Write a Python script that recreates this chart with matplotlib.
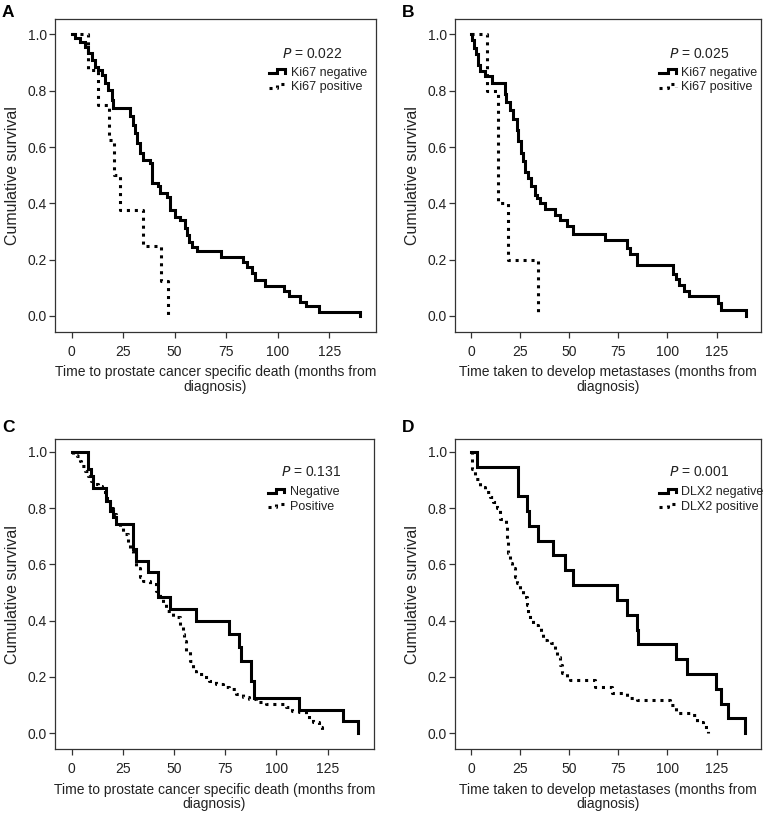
import matplotlib
matplotlib.use("Agg")
import matplotlib.pyplot as plt
from matplotlib.lines import Line2D
from matplotlib.legend_handler import HandlerLine2D

plt.rcParams['font.family'] = ['Liberation Sans', 'DejaVu Sans']

# ---------------- data (months, cumulative survival) ----------------
a_neg_t = [0, 1.6, 4.0, 6.5, 8.1, 9.7, 11.3, 12.9, 14.5, 16.2, 17.8, 19.4, 20.2, 28.3, 29.6, 30.7,
           31.8, 33.1, 34.8, 38.0, 38.8, 42.1, 42.9, 46.1, 47.7, 50.1, 52.5, 54.9, 55.8, 56.9, 58.2,
           60.6, 72.3, 83.0, 85.0, 87.4, 89.0, 94.0, 103.0, 105.5, 111.0, 114.0, 120.0, 140.0]
a_neg_s = [1.0, 0.987, 0.972, 0.957, 0.934, 0.91, 0.886, 0.874, 0.857, 0.827, 0.803, 0.768, 0.738,
           0.709, 0.679, 0.649, 0.614, 0.578, 0.555, 0.543, 0.472, 0.46, 0.436, 0.424, 0.377, 0.353,
           0.341, 0.312, 0.288, 0.264, 0.246, 0.231, 0.211, 0.193, 0.175, 0.152, 0.128, 0.105, 0.09,
           0.07, 0.05, 0.035, 0.015, 0.0]
a_pos_t = [0, 8.1, 12.9, 18.2, 20.6, 23.5, 34.8, 43.5, 46.7]
a_pos_s = [1.0, 0.875, 0.75, 0.625, 0.5, 0.375, 0.25, 0.125, 0.0]

b_neg_t = [0, 0.8, 1.7, 2.5, 3.7, 4.6, 7.1, 10.5, 17.3, 18.1, 19.8, 21.5, 23.2, 24.0, 25.7, 26.6,
           27.4, 29.1, 30.8, 32.6, 33.4, 35.1, 37.6, 42.7, 45.3, 48.7, 52.1, 68.2, 79.2, 80.9, 84.3,
           103.0, 104.5, 106.0, 108.6, 111.2, 125.8, 127.5, 140.0]
b_neg_s = [1.0, 0.982, 0.952, 0.929, 0.893, 0.869, 0.851, 0.827, 0.79, 0.76, 0.73, 0.70, 0.66, 0.62,
           0.58, 0.55, 0.51, 0.49, 0.46, 0.43, 0.42, 0.40, 0.38, 0.36, 0.34, 0.32, 0.29, 0.27, 0.24,
           0.22, 0.18, 0.15, 0.13, 0.11, 0.09, 0.07, 0.045, 0.02, 0.0]
b_pos_t = [0, 8.0, 13.9, 19.0, 34.2]
b_pos_s = [1.0, 0.8, 0.4, 0.2, 0.0]

c_neg_t = [0, 8.1, 9.7, 10.5, 17.0, 18.6, 20.2, 21.9, 30.0, 31.6, 37.3, 42.2, 47.8, 60.8, 77.0,
           81.9, 82.7, 87.6, 89.2, 111.0, 132.5, 140.0]
c_neg_s = [1.0, 0.94, 0.915, 0.873, 0.826, 0.79, 0.767, 0.743, 0.654, 0.613, 0.572, 0.483, 0.441,
           0.40, 0.353, 0.305, 0.258, 0.187, 0.125, 0.083, 0.042, 0.0]
c_pos_t = [0, 0.8, 2.4, 4.0, 4.8, 6.5, 8.1, 9.7, 11.3, 13.0, 14.6, 16.2, 18.6, 20.3, 21.9, 23.5,
           25.1, 27.6, 28.4, 30.0, 31.6, 33.2, 34.9, 38.1, 41.3, 43.0, 44.6, 46.2, 49.5, 52.7, 54.3,
           55.1, 55.9, 57.6, 59.2, 60.8, 64.1, 67.3, 70.5, 73.8, 77.0, 80.3, 83.5, 86.8, 90.0, 94.9,
           104.6, 107.8, 111.1, 114.3, 116.0, 117.6, 120.8, 122.4]
c_pos_s = [1.0, 0.99, 0.986, 0.968, 0.95, 0.933, 0.915, 0.897, 0.885, 0.879, 0.867, 0.838, 0.802,
           0.779, 0.755, 0.731, 0.708, 0.672, 0.649, 0.637, 0.589, 0.554, 0.542, 0.53, 0.507, 0.483,
           0.459, 0.436, 0.412, 0.376, 0.353, 0.329, 0.293, 0.258, 0.222, 0.211, 0.199, 0.187, 0.175,
           0.163, 0.157, 0.14, 0.128, 0.122, 0.11, 0.104, 0.092, 0.08, 0.075, 0.069, 0.051, 0.039,
           0.021, 0.0]

d_neg_t = [0, 2.9, 24.1, 28.7, 29.6, 34.2, 41.9, 47.8, 52.1, 74.1, 79.2, 84.3, 85.1, 104.6, 109.7,
           124.9, 127.5, 130.9, 139.5]
d_neg_s = [1.0, 0.947, 0.842, 0.789, 0.737, 0.684, 0.632, 0.579, 0.526, 0.474, 0.421, 0.368, 0.316,
           0.263, 0.211, 0.158, 0.105, 0.053, 0.0]
d_pos_t = [0, 0.3, 0.5, 2.0, 4.6, 7.1, 9.7, 11.4, 13.1, 14.8, 17.3, 18.1, 18.5, 19.0, 19.8, 20.7,
           22.4, 23.2, 24.9, 26.6, 28.3, 29.1, 30.0, 31.7, 34.2, 35.9, 36.8, 38.5, 41.0, 42.7, 43.6,
           45.3, 46.1, 48.7, 50.4, 63.1, 71.6, 79.2, 84.3, 101.2, 104.6, 112.2, 114.8, 118.2, 120.5]
d_pos_s = [1.0, 0.97, 0.941, 0.905, 0.876, 0.858, 0.84, 0.822, 0.799, 0.763, 0.757, 0.734, 0.686,
           0.639, 0.604, 0.586, 0.556, 0.533, 0.509, 0.485, 0.456, 0.426, 0.402, 0.385, 0.379, 0.355,
           0.331, 0.325, 0.32, 0.296, 0.272, 0.243, 0.213, 0.201, 0.189, 0.166, 0.142, 0.124, 0.118,
           0.101, 0.071, 0.065, 0.041, 0.024, 0.0]

panel_labels = ['A', 'B', 'C', 'D']
p_values = ['0.022', '0.025', '0.131', '0.001']
legend_labels = [('Ki67 negative', 'Ki67 positive'), ('Ki67 negative', 'Ki67 positive'),
                 ('Negative', 'Positive'), ('DLX2 negative', 'DLX2 positive')]
xlabels = ['Time to prostate cancer specific death (months from\ndiagnosis)',
           'Time taken to develop metastases (months from\ndiagnosis)',
           'Time to prostate cancer specific death (months from\ndiagnosis)',
           'Time taken to develop metastases (months from\ndiagnosis)']
x_ticks = [0, 25, 50, 75, 100, 125]
y_ticks = [0.0, 0.2, 0.4, 0.6, 0.8, 1.0]
series = [((a_neg_t, a_neg_s), (a_pos_t, a_pos_s)),
          ((b_neg_t, b_neg_s), (b_pos_t, b_pos_s)),
          ((c_neg_t, c_neg_s), (c_pos_t, c_pos_s)),
          ((d_neg_t, d_neg_s), (d_pos_t, d_pos_s))]


class StepHandler(HandlerLine2D):
    def create_artists(self, legend, orig_handle, xdescent, ydescent, width, height,
                       fontsize, trans):
        x0 = -xdescent
        xm = x0 + width * 0.5
        x1 = x0 + width
        yl = height * 0.25 - ydescent
        yh = height * 0.7 - ydescent
        line = Line2D([x0, xm, xm, x1, x1], [yl, yl, yh, yh, yl + 0.1 * height])
        line.update_from(orig_handle)
        line.set_transform(trans)
        return [line]


W, H = 764, 813
fig = plt.figure(figsize=(W / 100, H / 100), dpi=100)

positions = [
    [55 / W, 1 - 332 / H, 320.7 / W, 313 / H],
    [455 / W, 1 - 332 / H, 306 / W, 313 / H],
    [55 / W, 1 - 749.3 / H, 319 / W, 310.3 / H],
    [455 / W, 1 - 749.3 / H, 306 / W, 310.3 / H],
]
ylims = [(-0.057, 1.055), (-0.057, 1.055), (-0.057, 1.046), (-0.057, 1.046)]
label_pos = [(2 / W, 1 - 5 / H), (402 / W, 1 - 5 / H), (2 / W, 1 - 420 / H), (402 / W, 1 - 420 / H)]

solid_lw = 2.2
dot_style = (0, (1, 1.6))

for i in range(4):
    ax = fig.add_axes(positions[i])
    (tn, sn), (tp, sp) = series[i]
    ax.step(tn, sn, where='post', color='black', lw=solid_lw, solid_joinstyle='miter',
            label=legend_labels[i][0])
    ax.step(tp, sp, where='post', color='black', lw=solid_lw, linestyle=dot_style,
            label=legend_labels[i][1])
    ax.set_xlim(-8.1, 147.6)
    ax.set_ylim(*ylims[i])
    ax.set_xticks(x_ticks)
    ax.set_xticklabels([str(v) for v in x_ticks])
    ax.set_yticks(y_ticks)
    ax.set_yticklabels(['%.1f' % v for v in y_ticks])
    for sp_ in ax.spines.values():
        sp_.set_linewidth(0.9)
        sp_.set_color('#333333')
    ax.tick_params(axis='both', direction='out', length=4, width=0.9, color='#333333',
                   labelsize=10, labelcolor='#222222')
    ax.tick_params(axis='x', pad=5)
    ax.tick_params(axis='y', pad=2)
    ax.set_ylabel('Cumulative survival', fontsize=11.5, color='#222222', labelpad=5)
    ax.set_xlabel(xlabels[i], fontsize=10, color='#222222', labelpad=5, linespacing=1.05)
    ax.text(131.5, 0.93, r'$\it{P}$ = ' + p_values[i], ha='right', va='center', fontsize=10,
            color='#222222')
    leg = ax.legend(loc='upper left', bbox_to_anchor=(0.668, 0.848), frameon=False,
                    fontsize=9, handlelength=1.3, handletextpad=0.45, labelspacing=0.2,
                    borderpad=0, borderaxespad=0,
                    handler_map={Line2D: StepHandler()})
    for t in leg.get_texts():
        t.set_color('#222222')
    fig.text(label_pos[i][0], label_pos[i][1], panel_labels[i], fontsize=12.5,
             fontweight='bold', ha='left', va='top')

fig.savefig('out.png', dpi=100)
